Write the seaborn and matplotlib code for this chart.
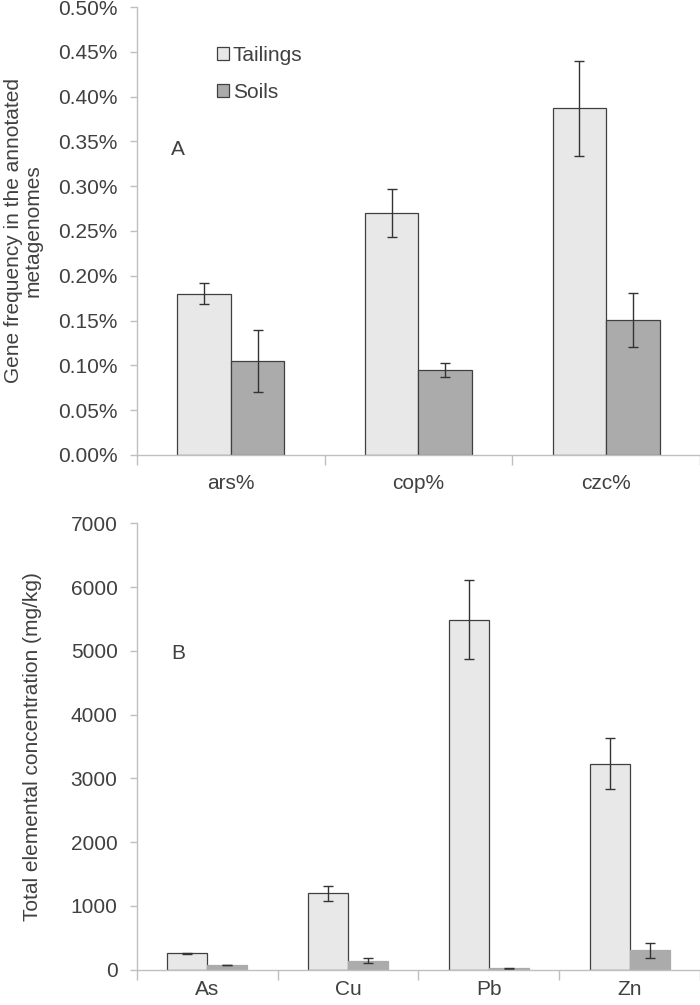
import numpy as np
import pandas as pd
import matplotlib
matplotlib.use("Agg")
import matplotlib.pyplot as plt
import seaborn as sns
from matplotlib.ticker import FuncFormatter

# ---- Data ----
genes = ["ars%", "cop%", "czc%"]
gene_tailings = [0.180, 0.270, 0.387]
gene_tailings_err = [0.012, 0.027, 0.053]
gene_soils = [0.105, 0.095, 0.151]
gene_soils_err = [0.035, 0.008, 0.030]

elements = ["As", "Cu", "Pb", "Zn"]
elem_tailings = [257, 1198, 5490, 3230]
elem_tailings_err = [12, 115, 615, 400]
elem_soils = [75, 138, 22, 306]
elem_soils_err = [6, 40, 8, 115]

groups = ["Tailings", "Soils"]

sns.set_theme(style="white")
plt.rcParams['font.family'] = ['Liberation Sans', 'DejaVu Sans']
TXT = "#404040"
AX = "#BFBFBF"
C_T = "#E8E8E8"
C_S = "#ABABAB"
EDGE = "#404040"
FS = 15

fig = plt.figure(figsize=(7.0, 10.05), dpi=100)
axA = fig.add_axes([0.1957, 0.5473, 0.8043, 0.4457])
axB = fig.add_axes([0.1957, 0.0351, 0.8043, 0.4442])


def build(cats, t, s):
    return pd.DataFrame({
        "cat": cats * 2,
        "val": list(t) + list(s),
        "grp": ["Tailings"] * len(cats) + ["Soils"] * len(cats),
    })


def draw(ax, cats, t, te, s, se, soil_edge, xpad):
    df = build(cats, t, s)
    sns.barplot(data=df, x="cat", y="val", hue="grp", hue_order=groups,
                palette=[C_T, C_S], width=0.57, errorbar=None, ax=ax,
                edgecolor=EDGE, linewidth=0.9, saturation=1)
    n = len(cats)
    patches = list(ax.patches)[:2 * n]
    vals = list(t) + list(s)
    errs = list(te) + list(se)
    for i, p in enumerate(patches):
        xc = p.get_x() + p.get_width() / 2
        ax.errorbar(xc, vals[i], yerr=errs[i], fmt="none", ecolor="#333333",
                    elinewidth=1.0, capsize=3.5, capthick=1.0)
        if i >= n and not soil_edge:
            p.set_edgecolor(C_S)
    ax.set_xlim(-0.5, n - 0.5)
    ax.set_xlabel("")
    for sp in ["top", "right"]:
        ax.spines[sp].set_visible(False)
    for sp in ["left", "bottom"]:
        ax.spines[sp].set_color(AX)
        ax.spines[sp].set_linewidth(1.0)
    ax.set_xticks(range(n))
    ax.set_xticklabels(cats)
    ax.set_xticks(np.arange(-0.5, n, 1.0), minor=True)
    ax.tick_params(axis="x", which="major", length=0, labelsize=FS,
                   labelcolor=TXT, pad=xpad)
    ax.tick_params(axis="x", which="minor", length=7, color=AX, width=1.0,
                   direction="out", bottom=True)
    ax.tick_params(axis="y", which="major", length=5, color=AX, width=1.0,
                   direction="out", left=True, labelsize=FS, labelcolor=TXT,
                   pad=9)


draw(axA, genes, gene_tailings, gene_tailings_err, gene_soils, gene_soils_err,
     True, 14)
axA.set_ylim(0, 0.5)
axA.set_yticks(np.arange(0, 0.501, 0.05))
axA.yaxis.set_major_formatter(FuncFormatter(lambda v, p: f"{v:.2f}%"))
axA.set_ylabel("Gene frequency in the annotated\nmetagenomes", fontsize=FS,
               color=TXT, labelpad=11, linespacing=1.05)
leg = axA.legend(loc="upper left", bbox_to_anchor=(0.109, 0.955), frameon=False,
                 fontsize=FS, handlelength=0.55, handleheight=0.55,
                 handletextpad=0.2, labelspacing=0.85, labelcolor=TXT)
axA.text(0.061, 0.67, "A", transform=axA.transAxes, fontsize=FS, color=TXT)

draw(axB, elements, elem_tailings, elem_tailings_err, elem_soils, elem_soils_err,
     False, 7.5)
axB.set_ylim(0, 7000)
axB.set_yticks(np.arange(0, 7001, 1000))
axB.yaxis.set_major_formatter(FuncFormatter(lambda v, p: f"{int(v)}"))
axB.set_ylabel("Total elemental concentration (mg/kg)", fontsize=FS,
               color=TXT, labelpad=21)
if axB.get_legend() is not None:
    axB.get_legend().remove()
axB.text(0.061, 0.695, "B", transform=axB.transAxes, fontsize=FS, color=TXT)

fig.savefig("out.png", dpi=100)
